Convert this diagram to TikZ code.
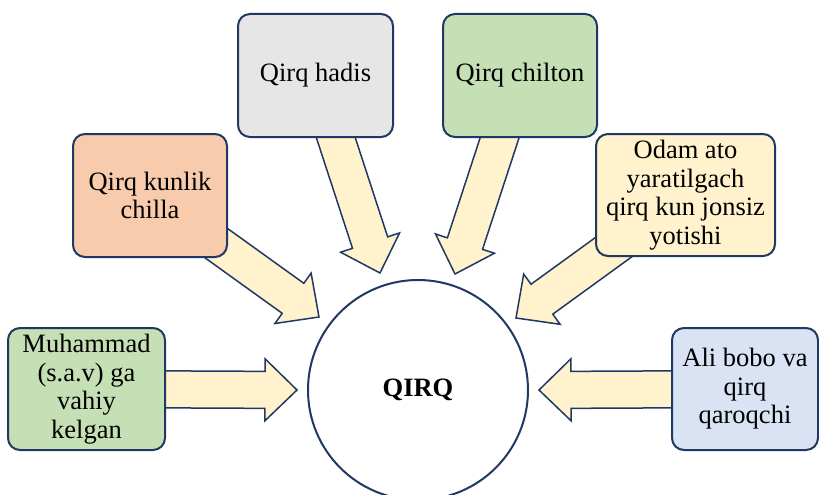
\documentclass[tikz,border=0pt]{standalone}
\usepackage{fontspec}
\setmainfont{Liberation Serif}
\usetikzlibrary{calc,backgrounds}
\definecolor{navy}{HTML}{203864}
\definecolor{boxgray}{HTML}{E7E6E6}
\definecolor{boxgreen}{HTML}{C5E0B4}
\definecolor{boxpeach}{HTML}{F8CBAD}
\definecolor{boxyellow}{HTML}{FFF2CC}
\definecolor{boxblue}{HTML}{DAE3F3}
\tikzset{
  infobox/.style={draw=navy, line width=2pt, rounded corners=12pt, inner sep=0pt,
    align=center, font=\fontsize{26.5}{28.5}\selectfont},
  blockarrow/.style={draw=navy, fill=boxyellow, line width=1.5pt, line join=miter},
  hub/.style={circle, draw=navy, line width=2pt, fill=white, inner sep=0pt,
    minimum size=220pt, font=\fontsize{26.5}{28.5}\selectfont\bfseries}
}
\newcommand{\blockarr}[2]{%
  \coordinate (tmpB) at ($(#2)!32pt!(#1)$);
  \draw[blockarrow] ($(#1)!18.5pt!90:(#2)$) -- ($(tmpB)!18.5pt!-90:(#1)$)
    -- ($(tmpB)!31pt!-90:(#1)$) -- (#2) -- ($(tmpB)!31pt!90:(#1)$)
    -- ($(tmpB)!18.5pt!90:(#1)$) -- ($(#1)!18.5pt!-90:(#2)$) -- cycle;
}
\begin{document}
\begin{tikzpicture}[x=1pt,y=-1pt]
\useasboundingbox (0,0) rectangle (819,495);
\node[hub] (q) at (418,390) {QIRQ};
\node[infobox, fill=boxgray, minimum width=155pt, minimum height=123pt] (hadis) at (315.5,75.5) {Qirq hadis};
\node[infobox, fill=boxgreen, minimum width=154pt, minimum height=123pt] (chilton) at (520,75.5) {Qirq chilton};
\node[infobox, fill=boxpeach, minimum width=154pt, minimum height=123pt] (kunlik) at (150,195.5) {Qirq kunlik\\chilla};
\node[infobox, fill=boxyellow, minimum width=179pt, minimum height=122pt] (odam) at (685.5,195) {Odam ato\\yaratilgach\\qirq kun jonsiz\\yotishi};
\node[infobox, fill=boxgreen, minimum width=157pt, minimum height=122pt] (muh) at (86.5,389) {Muhammad\\(s.a.v) ga\\vahiy\\kelgan};
\node[infobox, fill=boxblue, minimum width=146pt, minimum height=122pt] (ali) at (745,389) {Ali bobo va\\qirq\\qaroqchi};
\coordinate (thadis) at (380,273);
\coordinate (tchilton) at (455,274);
\coordinate (tkunlik) at (319,317);
\coordinate (todam) at (516,318);
\coordinate (tmuh) at (297,390);
\coordinate (tali) at (539,390);
\begin{pgfonlayer}{background}
\fill[white] (0,0) rectangle (819,495);
\blockarr{hadis.center}{thadis}
\blockarr{chilton.center}{tchilton}
\blockarr{kunlik.center}{tkunlik}
\blockarr{odam.center}{todam}
\blockarr{muh.center}{tmuh}
\blockarr{ali.center}{tali}
\end{pgfonlayer}
\end{tikzpicture}
\end{document}
